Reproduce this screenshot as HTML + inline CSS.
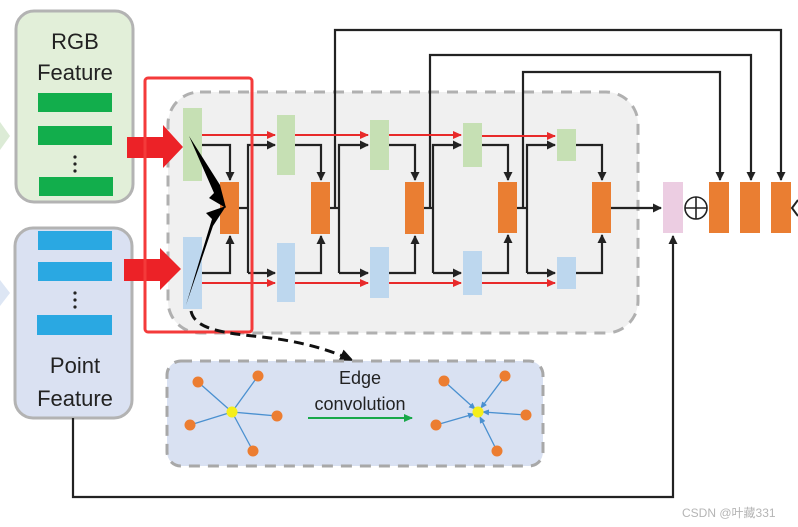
<!DOCTYPE html>
<html><head><meta charset="utf-8"><style>
html,body{margin:0;padding:0;background:#fff;}
svg{display:block;}
text{font-family:"Liberation Sans","Noto Sans CJK SC",sans-serif;}
</style></head><body>
<svg width="798" height="527" viewBox="0 0 798 527" xmlns="http://www.w3.org/2000/svg">
<defs>
<marker id="ak" markerWidth="9" markerHeight="9" refX="8" refY="4.5" orient="auto" markerUnits="userSpaceOnUse"><path d="M0,0 L9,4.5 L0,9 z" fill="#222"/></marker>
<marker id="ar" markerWidth="9" markerHeight="8" refX="8" refY="4" orient="auto" markerUnits="userSpaceOnUse"><path d="M0,0 L9,4 L0,8 z" fill="#e82a2a"/></marker>
<marker id="ag" markerWidth="9" markerHeight="8" refX="8" refY="4" orient="auto" markerUnits="userSpaceOnUse"><path d="M0,0 L9,4 L0,8 z" fill="#19a84a"/></marker>
<marker id="ab" markerWidth="7" markerHeight="6" refX="6" refY="3" orient="auto" markerUnits="userSpaceOnUse"><path d="M0,0 L7,3 L0,6 z" fill="#4a90d0"/></marker>
<marker id="ad" markerWidth="14" markerHeight="12" refX="12" refY="6" orient="auto" markerUnits="userSpaceOnUse"><path d="M0,0 L14,6 L0,12 z" fill="#111"/></marker>
</defs>

<path d="M0,122 L10,136 L0,150 z" fill="#dcebd6"/>
<path d="M0,280 L10,293 L0,306 z" fill="#dde6f4"/>

<rect x="16" y="11" width="117" height="191" rx="18" fill="#e2efd9" stroke="#b3b3b3" stroke-width="3"/>
<text x="75" y="49" font-size="22" text-anchor="middle" fill="#222">RGB</text>
<text x="75" y="80" font-size="22" text-anchor="middle" fill="#222">Feature</text>
<rect x="38" y="93" width="74" height="19" fill="#12ae4c"/>
<rect x="38" y="126" width="74" height="19" fill="#12ae4c"/>
<circle cx="75" cy="157" r="1.6" fill="#222"/><circle cx="75" cy="164" r="1.6" fill="#222"/><circle cx="75" cy="171" r="1.6" fill="#222"/>
<rect x="39" y="177" width="74" height="19" fill="#12ae4c"/>

<rect x="15" y="228" width="117" height="190" rx="18" fill="#dae1f2" stroke="#b3b3b3" stroke-width="3"/>
<rect x="38" y="231" width="74" height="19" fill="#2aa8e2"/>
<rect x="38" y="262" width="74" height="19" fill="#2aa8e2"/>
<circle cx="75" cy="293" r="1.6" fill="#222"/><circle cx="75" cy="300" r="1.6" fill="#222"/><circle cx="75" cy="307" r="1.6" fill="#222"/>
<rect x="37" y="315" width="75" height="20" fill="#2aa8e2"/>
<text x="75" y="373" font-size="22" text-anchor="middle" fill="#222">Point</text>
<text x="75" y="406" font-size="22" text-anchor="middle" fill="#222">Feature</text>

<rect x="168" y="92" width="470" height="241" rx="32" fill="#f0f0f0" stroke="#b0b0b0" stroke-width="3" stroke-dasharray="11,8"/>

<g fill="none" stroke="#222" stroke-width="2.2">
<path d="M335,208 V30 H781 V180" marker-end="url(#ak)"/>
<path d="M430,208 V55 H751 V180" marker-end="url(#ak)"/>
<path d="M523,208 V72 H720 V180" marker-end="url(#ak)"/>
<path d="M73,418 V497 H673 V236" marker-end="url(#ak)"/>
</g>

<g>
<rect x="183" y="108" width="19" height="73" fill="#c6e0b4"/>
<rect x="183" y="237" width="19" height="72" fill="#bdd7ee"/>
<rect x="220" y="182" width="19" height="52" fill="#ea7e32"/>
<rect x="277" y="115" width="18" height="60" fill="#c6e0b4"/>
<rect x="277" y="243" width="18" height="59" fill="#bdd7ee"/>
<rect x="311" y="182" width="19" height="52" fill="#ea7e32"/>
<rect x="370" y="120" width="19" height="50" fill="#c6e0b4"/>
<rect x="370" y="247" width="19" height="51" fill="#bdd7ee"/>
<rect x="405" y="182" width="19" height="52" fill="#ea7e32"/>
<rect x="463" y="123" width="19" height="44" fill="#c6e0b4"/>
<rect x="463" y="251" width="19" height="44" fill="#bdd7ee"/>
<rect x="498" y="182" width="19" height="51" fill="#ea7e32"/>
<rect x="557" y="129" width="19" height="32" fill="#c6e0b4"/>
<rect x="557" y="257" width="19" height="32" fill="#bdd7ee"/>
<rect x="592" y="182" width="19" height="51" fill="#ea7e32"/>
<rect x="663" y="182" width="20" height="51" fill="#eccde2"/>
<rect x="709" y="182" width="20" height="51" fill="#ea7e32"/>
<rect x="740" y="182" width="20" height="51" fill="#ea7e32"/>
<rect x="771" y="182" width="20" height="51" fill="#ea7e32"/>
</g>

<circle cx="696" cy="208" r="11" fill="none" stroke="#222" stroke-width="1.6"/>
<path d="M685,208 H707 M696,197 V219" stroke="#222" stroke-width="1.6"/>
<path d="M798,200 L792,208 L798,216" fill="none" stroke="#222" stroke-width="2"/>

<g fill="none" stroke="#222" stroke-width="2.2">
<path d="M202,145 H230 V180" marker-end="url(#ak)"/>
<path d="M202,273 H230 V236" marker-end="url(#ak)"/>
<path d="M295,145 H321 V180" marker-end="url(#ak)"/>
<path d="M295,273 H321 V236" marker-end="url(#ak)"/>
<path d="M389,145 H415 V180" marker-end="url(#ak)"/>
<path d="M389,273 H415 V236" marker-end="url(#ak)"/>
<path d="M482,145 H508 V180" marker-end="url(#ak)"/>
<path d="M482,273 H508 V235" marker-end="url(#ak)"/>
<path d="M576,145 H602 V180" marker-end="url(#ak)"/>
<path d="M576,273 H602 V235" marker-end="url(#ak)"/>
<path d="M239,208 H248"/>
<path d="M248,273 V145 H275" marker-end="url(#ak)"/>
<path d="M248,273 H275" marker-end="url(#ak)"/>
<path d="M330,208 H339"/>
<path d="M339,273 V145 H368" marker-end="url(#ak)"/>
<path d="M339,273 H368" marker-end="url(#ak)"/>
<path d="M424,208 H433"/>
<path d="M433,273 V145 H461" marker-end="url(#ak)"/>
<path d="M433,273 H461" marker-end="url(#ak)"/>
<path d="M517,208 H527"/>
<path d="M527,273 V145 H555" marker-end="url(#ak)"/>
<path d="M527,273 H555" marker-end="url(#ak)"/>
<path d="M611,208 H661" marker-end="url(#ak)"/>
</g>

<g fill="none" stroke="#e82a2a" stroke-width="2">
<path d="M202,135 H275" marker-end="url(#ar)"/>
<path d="M295,135 H368" marker-end="url(#ar)"/>
<path d="M389,135 H461" marker-end="url(#ar)"/>
<path d="M482,136 H555" marker-end="url(#ar)"/>
<path d="M202,283 H275" marker-end="url(#ar)"/>
<path d="M295,283 H368" marker-end="url(#ar)"/>
<path d="M389,283 H461" marker-end="url(#ar)"/>
<path d="M482,283 H555" marker-end="url(#ar)"/>
</g>

<path d="M189,136 L220,185 L226,208 L209,198 L214,193 Z" fill="#000"/>
<path d="M186,305 L213,226 L226,206 L206,213 L212,219 Z" fill="#000"/>

<path d="M127,137 H163 V125 L183,147 L163,168 V158 H127 Z" fill="#ec2227"/>
<path d="M124,259 H160 V248 L181,269 L160,290 V281 H124 Z" fill="#ec2227"/>

<rect x="145" y="78" width="107" height="254" rx="3" fill="none" stroke="#f43a3a" stroke-width="3"/>

<path d="M191,311 C195,330 225,333 262,337 C300,341 330,350 352,360" fill="none" stroke="#111" stroke-width="3" stroke-dasharray="10,6" marker-end="url(#ad)"/>

<rect x="167" y="361" width="376" height="105" rx="14" fill="#d9e1f2" stroke="#a8a8a8" stroke-width="3" stroke-dasharray="11,8"/>
<g stroke="#4a90d0" stroke-width="1.3">
<line x1="232" y1="412" x2="198" y2="382"/><line x1="232" y1="412" x2="258" y2="376"/><line x1="232" y1="412" x2="277" y2="416"/><line x1="232" y1="412" x2="190" y2="425"/><line x1="232" y1="412" x2="253" y2="451"/>
<line x1="444" y1="381" x2="475" y2="409" marker-end="url(#ab)"/><line x1="505" y1="376" x2="481" y2="408" marker-end="url(#ab)"/><line x1="526" y1="415" x2="483" y2="412" marker-end="url(#ab)"/><line x1="436" y1="425" x2="474" y2="414" marker-end="url(#ab)"/><line x1="497" y1="451" x2="480" y2="417" marker-end="url(#ab)"/>
</g>
<g fill="#ec7d31">
<circle cx="198" cy="382" r="5.5"/><circle cx="258" cy="376" r="5.5"/><circle cx="277" cy="416" r="5.5"/><circle cx="190" cy="425" r="5.5"/><circle cx="253" cy="451" r="5.5"/>
<circle cx="444" cy="381" r="5.5"/><circle cx="505" cy="376" r="5.5"/><circle cx="526" cy="415" r="5.5"/><circle cx="436" cy="425" r="5.5"/><circle cx="497" cy="451" r="5.5"/>
</g>
<circle cx="232" cy="412" r="5.5" fill="#f5ee1a"/>
<circle cx="478" cy="412" r="5.5" fill="#f5ee1a"/>
<text x="360" y="384" font-size="18" text-anchor="middle" fill="#222">Edge</text>
<text x="360" y="410" font-size="18" text-anchor="middle" fill="#222">convolution</text>
<line x1="308" y1="418" x2="412" y2="418" stroke="#19a84a" stroke-width="2" marker-end="url(#ag)"/>

<text x="682" y="517" font-size="12" fill="#b5b5b5">CSDN @叶藏331</text>
</svg>
</body></html>
